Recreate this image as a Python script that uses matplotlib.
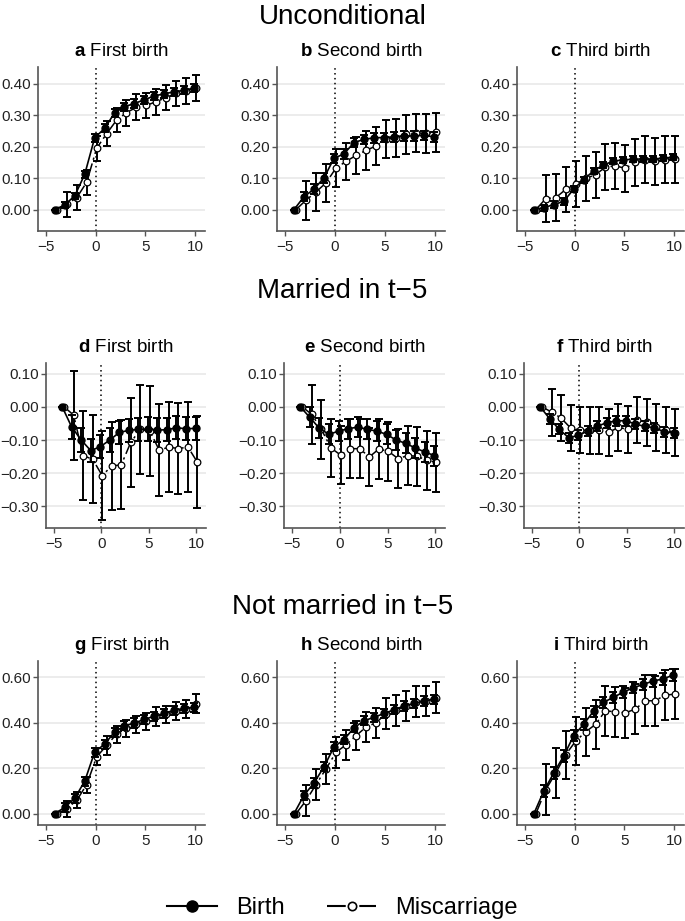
import numpy as np
import matplotlib
matplotlib.use("Agg")
import matplotlib.pyplot as plt
from matplotlib.lines import Line2D

plt.rcParams['font.family'] = ['Liberation Sans', 'DejaVu Sans']
plt.rcParams['mathtext.fontset'] = 'custom'
plt.rcParams['mathtext.rm'] = 'Liberation Sans'
plt.rcParams['mathtext.bf'] = 'Liberation Sans:bold'

years = list(range(-4, 11))

# a - unconditional, first birth
a_birth = [0, 0.015, 0.044, 0.112, 0.228, 0.258, 0.307, 0.327, 0.337, 0.349, 0.361, 0.368, 0.374, 0.379, 0.386]
a_birth_ci = [0, 0.01, 0.01, 0.012, 0.012, 0.013, 0.013, 0.013, 0.013, 0.013, 0.013, 0.013, 0.013, 0.013, 0.013]
a_misc = [0, 0.017, 0.038, 0.087, 0.195, 0.241, 0.284, 0.308, 0.325, 0.331, 0.343, 0.356, 0.37, 0.377, 0.386]
a_misc_ci = [0, 0.04, 0.04, 0.04, 0.04, 0.039, 0.039, 0.041, 0.041, 0.04, 0.041, 0.041, 0.04, 0.041, 0.042]
# b - unconditional, second birth
b_birth = [0, 0.041, 0.065, 0.101, 0.163, 0.177, 0.213, 0.223, 0.228, 0.229, 0.231, 0.234, 0.234, 0.236, 0.231]
b_birth_ci = [0, 0.015, 0.015, 0.015, 0.015, 0.015, 0.015, 0.015, 0.015, 0.015, 0.015, 0.015, 0.015, 0.015, 0.015]
b_misc = [0, 0.03, 0.056, 0.085, 0.132, 0.153, 0.172, 0.188, 0.202, 0.225, 0.228, 0.239, 0.244, 0.242, 0.246]
b_misc_ci = [0, 0.062, 0.06, 0.06, 0.06, 0.06, 0.06, 0.061, 0.061, 0.061, 0.061, 0.061, 0.061, 0.062, 0.062]
# c - unconditional, third birth
c_birth = [0, 0.006, 0.016, 0.026, 0.065, 0.095, 0.123, 0.142, 0.154, 0.158, 0.16, 0.161, 0.16, 0.164, 0.166]
c_birth_ci = [0, 0.01, 0.01, 0.01, 0.01, 0.01, 0.01, 0.01, 0.01, 0.01, 0.01, 0.01, 0.01, 0.01, 0.01]
c_misc = [0, 0.035, 0.038, 0.064, 0.081, 0.099, 0.111, 0.135, 0.139, 0.131, 0.15, 0.159, 0.153, 0.159, 0.16]
c_misc_ci = [0, 0.074, 0.074, 0.072, 0.072, 0.072, 0.073, 0.074, 0.074, 0.074, 0.074, 0.075, 0.075, 0.075, 0.075]

# d - married in t-5, first birth
d_birth = [0, -0.061, -0.10, -0.132, -0.12, -0.10, -0.077, -0.071, -0.068, -0.067, -0.07, -0.069, -0.063, -0.066, -0.065]
d_birth_ci = [0, 0.035, 0.035, 0.035, 0.035, 0.035, 0.035, 0.035, 0.035, 0.035, 0.035, 0.035, 0.035, 0.035, 0.035]
d_misc = [0, -0.025, -0.147, -0.158, -0.207, -0.178, -0.175, -0.107, -0.068, -0.073, -0.131, -0.121, -0.126, -0.121, -0.167]
d_misc_ci = [0, 0.134, 0.134, 0.132, 0.133, 0.133, 0.134, 0.134, 0.134, 0.136, 0.138, 0.136, 0.137, 0.137, 0.138]
# e - married in t-5, second birth
e_birth = [0, -0.032, -0.065, -0.083, -0.073, -0.066, -0.061, -0.068, -0.073, -0.083, -0.10, -0.11, -0.124, -0.136, -0.147]
e_birth_ci = [0, 0.03, 0.03, 0.03, 0.03, 0.03, 0.03, 0.03, 0.03, 0.03, 0.03, 0.03, 0.03, 0.03, 0.03]
e_misc = [0, -0.023, -0.068, -0.124, -0.145, -0.126, -0.126, -0.151, -0.127, -0.134, -0.156, -0.147, -0.149, -0.161, -0.167]
e_misc_ci = [0, 0.089, 0.088, 0.088, 0.087, 0.088, 0.089, 0.088, 0.089, 0.089, 0.089, 0.089, 0.089, 0.089, 0.089]
# f - married in t-5, third birth
f_birth = [0, -0.036, -0.068, -0.093, -0.086, -0.073, -0.058, -0.048, -0.042, -0.042, -0.052, -0.059, -0.063, -0.075, -0.078]
f_birth_ci = [0, 0.015, 0.015, 0.015, 0.015, 0.015, 0.015, 0.015, 0.015, 0.015, 0.015, 0.015, 0.015, 0.015, 0.015]
f_misc = [0, -0.016, -0.034, -0.064, -0.07, -0.071, -0.071, -0.077, -0.062, -0.068, -0.04, -0.047, -0.061, -0.07, -0.078]
f_misc_ci = [0, 0.071, 0.07, 0.069, 0.07, 0.07, 0.07, 0.07, 0.07, 0.07, 0.07, 0.071, 0.071, 0.07, 0.07]

# g - not married in t-5, first birth
g_birth = [0, 0.028, 0.068, 0.143, 0.271, 0.306, 0.359, 0.387, 0.399, 0.415, 0.429, 0.441, 0.456, 0.463, 0.468]
g_birth_ci = [0, 0.02, 0.02, 0.02, 0.02, 0.02, 0.02, 0.02, 0.02, 0.02, 0.02, 0.02, 0.02, 0.02, 0.02]
g_misc = [0, 0.022, 0.059, 0.128, 0.25, 0.30, 0.35, 0.375, 0.394, 0.406, 0.428, 0.437, 0.451, 0.459, 0.484]
g_misc_ci = [0, 0.035, 0.035, 0.035, 0.038, 0.04, 0.038, 0.037, 0.038, 0.039, 0.04, 0.038, 0.04, 0.04, 0.041]
# h - not married in t-5, second birth
h_birth = [0, 0.081, 0.135, 0.206, 0.294, 0.326, 0.378, 0.409, 0.424, 0.441, 0.457, 0.474, 0.485, 0.496, 0.504]
h_birth_ci = [0, 0.02, 0.02, 0.02, 0.02, 0.02, 0.02, 0.02, 0.02, 0.02, 0.02, 0.02, 0.02, 0.02, 0.02]
h_misc = [0, 0.057, 0.128, 0.197, 0.27, 0.303, 0.343, 0.381, 0.40, 0.44, 0.456, 0.475, 0.493, 0.496, 0.51]
h_misc_ci = [0, 0.068, 0.068, 0.066, 0.067, 0.065, 0.065, 0.066, 0.066, 0.067, 0.068, 0.067, 0.068, 0.068, 0.068]
# i - not married in t-5, third birth
i_birth = [0, 0.10, 0.179, 0.254, 0.343, 0.393, 0.451, 0.49, 0.512, 0.535, 0.554, 0.569, 0.584, 0.593, 0.61]
i_birth_ci = [0, 0.025, 0.025, 0.025, 0.025, 0.025, 0.025, 0.025, 0.025, 0.025, 0.025, 0.025, 0.025, 0.025, 0.025]
i_misc = [0, 0.106, 0.179, 0.26, 0.319, 0.36, 0.393, 0.453, 0.448, 0.444, 0.46, 0.497, 0.497, 0.522, 0.526]
i_misc_ci = [0, 0.112, 0.11, 0.106, 0.106, 0.107, 0.108, 0.11, 0.109, 0.111, 0.11, 0.112, 0.11, 0.111, 0.111]

row_titles = ["Unconditional", "Married in t\u22125", "Not married in t\u22125"]
col_titles = ["First birth", "Second birth", "Third birth"]
letters = ["a", "b", "c", "d", "e", "f", "g", "h", "i"]
row_yticks = [[0, 0.1, 0.2, 0.3, 0.4], [-0.3, -0.2, -0.1, 0, 0.1], [0, 0.2, 0.4, 0.6]]
row_ylim = [(-0.068, 0.453), (-0.365, 0.132), (-0.05, 0.672)]

panels = [
    (a_birth, a_birth_ci, a_misc, a_misc_ci), (b_birth, b_birth_ci, b_misc, b_misc_ci),
    (c_birth, c_birth_ci, c_misc, c_misc_ci), (d_birth, d_birth_ci, d_misc, d_misc_ci),
    (e_birth, e_birth_ci, e_misc, e_misc_ci), (f_birth, f_birth_ci, f_misc, f_misc_ci),
    (g_birth, g_birth_ci, g_misc, g_misc_ci), (h_birth, h_birth_ci, h_misc, h_misc_ci),
    (i_birth, i_birth_ci, i_misc, i_misc_ci),
]

W, H = 685, 921
fig = plt.figure(figsize=(W / 100, H / 100), dpi=100)

# axes boxes in pixels: (left, top, right, bottom)
row_px = [(67, 231), (363, 528), (661, 825)]
col_px = [[(38, 205), (277, 445), (517, 684)],
          [(46, 206), (284, 445), (524, 684)],
          [(38, 205), (277, 445), (517, 684)]]
row_title_y = [17, 291, 607]

misc_dash = (0, (9, 2.5, 1.5, 2.5))
x = np.array(years)

for r in range(3):
    fig.text(0.5, 1 - row_title_y[r] / H, row_titles[r], ha='center', va='center', fontsize=20)
    top, bot = row_px[r]
    for c in range(3):
        k = r * 3 + c
        left, right = col_px[r][c]
        ax = fig.add_axes([left / W, 1 - bot / H, (right - left) / W, (bot - top) / H])
        birth, birth_ci, misc, misc_ci = panels[k]

        ax.errorbar(x + 0.1, misc, yerr=misc_ci, fmt='none', ecolor='black',
                    elinewidth=1.4, capsize=3, capthick=1.4, zorder=3)
        ax.plot(x + 0.1, misc, color='black', lw=1.1, linestyle=misc_dash,
                marker='o', ms=4.8, mfc='white', mec='black', mew=0.9, zorder=4)
        ax.errorbar(x - 0.1, birth, yerr=birth_ci, fmt='none', ecolor='black',
                    elinewidth=1.4, capsize=3, capthick=1.4, zorder=5)
        ax.plot(x - 0.1, birth, color='black', lw=1.2, marker='o', ms=5,
                mfc='black', mec='black', zorder=6)

        ax.axvline(0, color='black', lw=1.1, linestyle=(0, (1, 2.2)), zorder=2)
        ax.set_xlim(-5.8, 11)
        ax.set_ylim(*row_ylim[r])
        ax.set_xticks([-5, 0, 5, 10])
        ax.set_xticklabels(["\u22125", "0", "5", "10"])
        ax.set_yticks(row_yticks[r])
        ax.set_yticklabels([("%.2f" % v).replace("-", "\u2212") for v in row_yticks[r]])
        for yv in row_yticks[r]:
            ax.axhline(yv, color='#ebebeb', lw=1.3, zorder=0)
        for s in ['top', 'right']:
            ax.spines[s].set_visible(False)
        for s in ['left', 'bottom']:
            ax.spines[s].set_color('#555555')
            ax.spines[s].set_linewidth(1.2)
        ax.tick_params(axis='both', labelsize=11, colors='#555555', labelcolor='#222222',
                       length=3.5, width=1.0, direction='out', pad=1.5)
        ax.tick_params(axis='x', pad=3)
        ax.set_title(r"$\bf{%s}$ %s" % (letters[k], col_titles[c]), fontsize=13.5, pad=8)

handles = [
    Line2D([], [], color='black', lw=1.5, marker='o', ms=8, mfc='black'),
    Line2D([], [], color='black', lw=1.5, linestyle=misc_dash, marker='o', ms=6,
           mfc='white', mec='black', mew=1.2),
]
fig.legend(handles, ["Birth", "Miscarriage"], loc='center', bbox_to_anchor=(0.5, 1 - 908 / H),
           ncol=2, frameon=False, fontsize=17, handlelength=2.1, columnspacing=1.8,
           handletextpad=0.8)

fig.savefig("out.png", dpi=100)
